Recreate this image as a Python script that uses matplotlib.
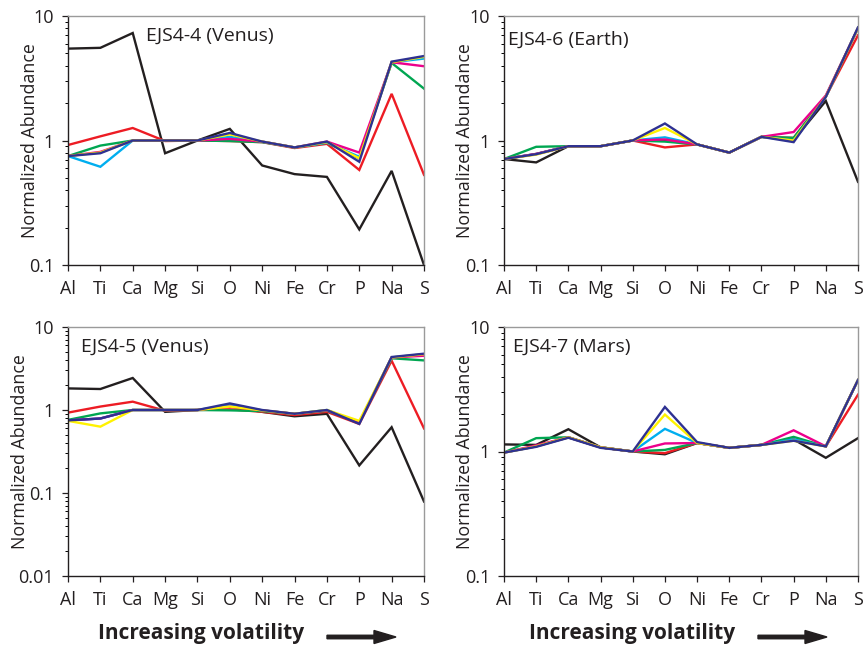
import matplotlib
matplotlib.use("Agg")
import matplotlib.pyplot as plt
from matplotlib.ticker import FixedLocator, FixedFormatter, LogLocator, NullFormatter

plt.rcParams['font.family'] = ['Open Sans', 'DejaVu Sans']

elements = ["Al", "Ti", "Ca", "Mg", "Si", "O", "Ni", "Fe", "Cr", "P", "Na", "S"]

# Panel 1: EJS4-4 (Venus)
p1_black   = [5.47, 5.55, 7.3, 0.79, 1.0, 1.24, 0.63, 0.537, 0.51, 0.193, 0.57, 0.1]
p1_red     = [0.92, 1.08, 1.26, 0.99, 1.0, 0.99, 0.97, 0.87, 0.94, 0.58, 2.37, 0.53]
p1_green   = [0.75, 0.91, 1.0, 1.0, 1.0, 0.99, 0.97, 0.88, 0.96, 0.72, 4.2, 2.61]
p1_cyan    = [0.75, 0.615, 1.0, 1.0, 1.0, 1.07, 0.98, 0.88, 0.96, 0.74, 4.25, 4.55]
p1_magenta = [0.75, 0.81, 1.0, 1.0, 1.0, 1.03, 0.98, 0.88, 0.98, 0.80, 4.25, 3.95]
p1_yellow  = [0.75, 0.80, 1.0, 1.0, 1.0, 1.12, 0.98, 0.88, 0.97, 0.72, 4.25, 4.7]
p1_blue    = [0.75, 0.79, 1.0, 1.0, 1.0, 1.15, 0.98, 0.88, 0.98, 0.675, 4.3, 4.77]

# Panel 2: EJS4-6 (Earth)
p2_black   = [0.71, 0.667, 0.90, 0.90, 1.0, 1.0, 0.93, 0.80, 1.07, 1.01, 2.08, 0.466]
p2_red     = [0.71, 0.78, 0.90, 0.90, 1.0, 0.88, 0.93, 0.80, 1.07, 1.05, 2.25, 7.0]
p2_green   = [0.71, 0.89, 0.90, 0.90, 1.0, 0.98, 0.93, 0.80, 1.07, 1.05, 2.25, 8.0]
p2_cyan    = [0.71, 0.78, 0.90, 0.90, 1.0, 1.06, 0.93, 0.80, 1.07, 1.0, 2.25, 8.0]
p2_magenta = [0.71, 0.78, 0.90, 0.90, 1.0, 1.02, 0.93, 0.80, 1.07, 1.17, 2.3, 8.0]
p2_yellow  = [0.71, 0.77, 0.90, 0.90, 1.0, 1.26, 0.93, 0.80, 1.07, 1.0, 2.25, 8.0]
p2_blue    = [0.71, 0.776, 0.90, 0.90, 1.0, 1.37, 0.93, 0.80, 1.07, 0.97, 2.24, 8.1]

# Panel 3: EJS4-5 (Venus)
p3_black   = [1.82, 1.79, 2.43, 0.95, 1.0, 1.1, 0.95, 0.84, 0.90, 0.215, 0.62, 0.079]
p3_red     = [0.93, 1.1, 1.26, 0.98, 1.0, 1.02, 0.95, 0.87, 0.95, 0.68, 3.93, 0.60]
p3_green   = [0.76, 0.91, 1.0, 1.0, 1.0, 0.99, 0.97, 0.90, 0.98, 0.70, 4.2, 3.96]
p3_cyan    = [0.75, 0.79, 1.0, 1.0, 1.0, 1.15, 0.99, 0.90, 1.0, 0.70, 4.3, 4.7]
p3_magenta = [0.75, 0.79, 1.0, 1.0, 1.0, 1.1, 0.99, 0.90, 0.99, 0.70, 4.3, 4.5]
p3_yellow  = [0.74, 0.63, 1.0, 1.0, 1.0, 1.1, 0.99, 0.90, 1.0, 0.74, 4.3, 4.7]
p3_blue    = [0.75, 0.79, 1.0, 1.0, 1.0, 1.2, 1.0, 0.90, 1.0, 0.68, 4.35, 4.77]

# Panel 4: EJS4-7 (Mars)
p4_black   = [1.14, 1.13, 1.51, 1.08, 1.0, 0.95, 1.17, 1.07, 1.13, 1.25, 0.89, 1.28]
p4_red     = [0.98, 1.1, 1.3, 1.08, 1.0, 0.97, 1.17, 1.07, 1.13, 1.25, 1.1, 2.86]
p4_green   = [0.98, 1.28, 1.3, 1.08, 1.0, 1.03, 1.17, 1.07, 1.13, 1.31, 1.1, 3.75]
p4_cyan    = [0.98, 1.1, 1.3, 1.08, 1.0, 1.52, 1.17, 1.07, 1.13, 1.25, 1.1, 3.75]
p4_magenta = [0.98, 1.12, 1.3, 1.08, 1.0, 1.16, 1.17, 1.07, 1.13, 1.48, 1.1, 3.75]
p4_yellow  = [0.98, 1.1, 1.3, 1.08, 1.0, 1.98, 1.17, 1.07, 1.13, 1.22, 1.1, 3.75]
p4_blue    = [0.98, 1.09, 1.29, 1.07, 1.0, 2.28, 1.19, 1.07, 1.13, 1.22, 1.1, 3.75]

titles = ["EJS4-4 (Venus)", "EJS4-6 (Earth)", "EJS4-5 (Venus)", "EJS4-7 (Mars)"]

colors = {"black": "#231F20", "red": "#ED1C24", "green": "#00A651", "cyan": "#00AEEF",
          "magenta": "#EC008C", "yellow": "#FFF200", "blue": "#2E3192"}

panels = [
    [p1_black, p1_red, p1_green, p1_cyan, p1_magenta, p1_yellow, p1_blue],
    [p2_black, p2_red, p2_green, p2_cyan, p2_magenta, p2_yellow, p2_blue],
    [p3_black, p3_red, p3_green, p3_cyan, p3_magenta, p3_yellow, p3_blue],
    [p4_black, p4_red, p4_green, p4_cyan, p4_magenta, p4_yellow, p4_blue],
]
order = ["black", "red", "green", "cyan", "magenta", "yellow", "blue"]

W, H = 867, 649
fig = plt.figure(figsize=(W / 100, H / 100), dpi=100)

# pixel boxes: left, right, top, bottom
boxes = [(68, 424, 16, 265), (504, 858, 16, 265), (68, 424, 327, 576), (504, 858, 327, 576)]
ylims = [(0.1, 10), (0.1, 10), (0.01, 10), (0.1, 10)]
title_pos = [(0.22, 0.92), (0.012, 0.905), (0.037, 0.92), (0.025, 0.92)]
ylabel_x = [39, 474, 29, 474]

x = list(range(len(elements)))
for i, (box, series) in enumerate(zip(boxes, panels)):
    l, r, t, b = box
    ax = fig.add_axes([l / W, (H - b) / H, (r - l) / W, (b - t) / H])
    for name, vals in zip(order, series):
        ax.plot(x, vals, color=colors[name], lw=1.7, solid_joinstyle='miter', clip_on=True)
    ax.set_yscale('log')
    ax.set_ylim(*ylims[i])
    ax.set_xlim(0, len(elements) - 1)
    lo, hi = ylims[i]
    majors = [v for v in [0.01, 0.1, 1, 10] if lo <= v <= hi]
    ax.yaxis.set_major_locator(FixedLocator(majors))
    ax.yaxis.set_major_formatter(FixedFormatter([("%g" % v) for v in majors]))
    ax.yaxis.set_minor_locator(LogLocator(base=10, subs=range(2, 10)))
    ax.yaxis.set_minor_formatter(NullFormatter())
    ax.set_xticks(x)
    ax.set_xticklabels(elements)
    ax.tick_params(axis='both', which='major', direction='out', length=4, width=0.9,
                   labelsize=13, colors='#231F20', pad=6)
    ax.tick_params(axis='x', pad=7)
    ax.tick_params(axis='y', which='minor', direction='out', length=2.5, width=0.7)
    ax.spines['left'].set_color('#231F20')
    ax.spines['bottom'].set_color('#231F20')
    ax.spines['top'].set_color('#9a9a9a')
    ax.spines['right'].set_color('#9a9a9a')
    for s in ax.spines.values():
        s.set_linewidth(1.0)
    ax.set_ylabel("Normalized Abundance", fontsize=12.8, color='#231F20')
    ax.yaxis.set_label_coords((ylabel_x[i] - l) / (r - l), 0.5)
    ax.text(title_pos[i][0], title_pos[i][1], titles[i], transform=ax.transAxes,
            fontsize=14, color='#231F20', va='center', ha='left')

# "Increasing volatility" labels with arrows
for (tx, ax0, ax1) in [(201, 327, 396), (632, 758, 827)]:
    fig.text(tx / W, 1 - 633 / H, "Increasing volatility", fontsize=15, fontweight='bold',
             ha='center', va='center', color='#231F20')
    fig.patches.append(matplotlib.patches.FancyArrow(
        ax0 / W, 1 - 637 / H, (ax1 - ax0) / W, 0, width=3.5 / H, head_width=13 / H,
        head_length=22 / W, length_includes_head=True, color='#231F20',
        transform=fig.transFigure, figure=fig))

fig.savefig("out.png", dpi=100)
